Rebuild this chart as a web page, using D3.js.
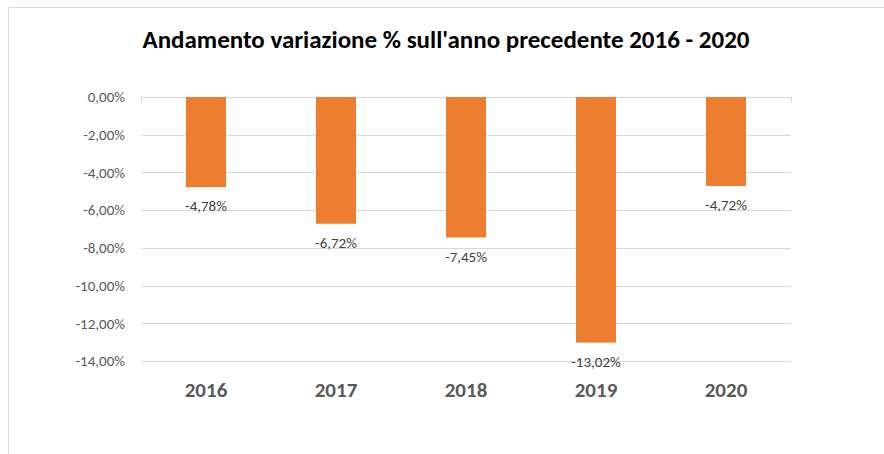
<!DOCTYPE html>
<html lang="it">
<head>
<meta charset="UTF-8">
<title>Andamento variazione %</title>
<script src="https://d3js.org/d3.v7.min.js"></script>
<style>
    body { margin: 0; background: #fff; }
    svg { display: block; font-family: Carlito, Calibri, "Liberation Sans", "DejaVu Sans", sans-serif; }
    .grid line { stroke: #d9d9d9; stroke-width: 1px; }
    .ylab { fill: #595959; font-size: 15px; }
    .xlab { fill: #595959; font-size: 21px; font-weight: bold; }
    .vlab { fill: #404040; font-size: 15px; }
</style>
</head>
<body>
<svg id="chart" width="884" height="454"></svg>
<script>
    // dati
    let years = ["2016", "2017", "2018", "2019", "2020"];
    let variazione = [-4.78, -6.72, -7.45, -13.02, -4.72];
    let yTicks = [0, -2, -4, -6, -8, -10, -12, -14];
    let titolo = "Andamento variazione % sull'anno precedente 2016 - 2020";

    let svg = d3.select("#chart");
    let pLeft = 141, pRight = 791, pTop = 97, pBottom = 361;

    // cornice del grafico
    svg.append("path")
        .attr("d", "M8.5,454 V7.5 H884")
        .attr("fill", "none")
        .attr("stroke", "#d9d9d9");

    let fmt = v => d3.format(".2f")(v).replace("−", "-").replace(".", ",") + "%";

    let x = d3.scaleBand().domain(years).range([pLeft, pRight]);
    let y = d3.scaleLinear().domain([0, -14]).range([pTop, pBottom]);

    svg.append("text")
        .attr("x", 446).attr("y", 48)
        .attr("text-anchor", "middle")
        .attr("font-size", "25px")
        .attr("font-weight", "bold")
        .attr("fill", "#000")
        .text(titolo);

    let grid = svg.append("g").attr("class", "grid");
    grid.selectAll("line")
        .data(yTicks)
        .join("line")
        .attr("x1", pLeft).attr("x2", pRight)
        .attr("y1", d => Math.round(y(d)) + 0.5)
        .attr("y2", d => Math.round(y(d)) + 0.5);
    // piccoli segni agli estremi dell'asse
    grid.selectAll("line.end")
        .data([pLeft, pRight])
        .join("line")
        .attr("class", "end")
        .attr("x1", d => d + 0.5).attr("x2", d => d + 0.5)
        .attr("y1", Math.round(y(0))).attr("y2", Math.round(y(0)) + 6);

    svg.append("g").selectAll("text")
        .data(yTicks)
        .join("text")
        .attr("class", "ylab")
        .attr("x", 125)
        .attr("y", d => y(d))
        .attr("dy", "0.35em")
        .attr("text-anchor", "end")
        .text(d => fmt(d));

    let bw = 40;
    svg.append("g").selectAll("rect")
        .data(variazione)
        .join("rect")
        .attr("x", (d, i) => x(years[i]) + x.bandwidth() / 2 - bw / 2)
        .attr("y", y(0))
        .attr("width", bw)
        .attr("height", d => y(d) - y(0))
        .attr("fill", "#ED7D31");

    svg.append("g").selectAll("text")
        .data(variazione)
        .join("text")
        .attr("class", "vlab")
        .attr("x", (d, i) => x(years[i]) + x.bandwidth() / 2)
        .attr("y", d => y(d) + 19)
        .attr("dy", "0.35em")
        .attr("text-anchor", "middle")
        .text(d => fmt(d));

    svg.append("g").selectAll("text")
        .data(years)
        .join("text")
        .attr("class", "xlab")
        .attr("x", d => x(d) + x.bandwidth() / 2)
        .attr("y", 390)
        .attr("dy", "0.35em")
        .attr("text-anchor", "middle")
        .text(d => d);
</script>
</body>
</html>
